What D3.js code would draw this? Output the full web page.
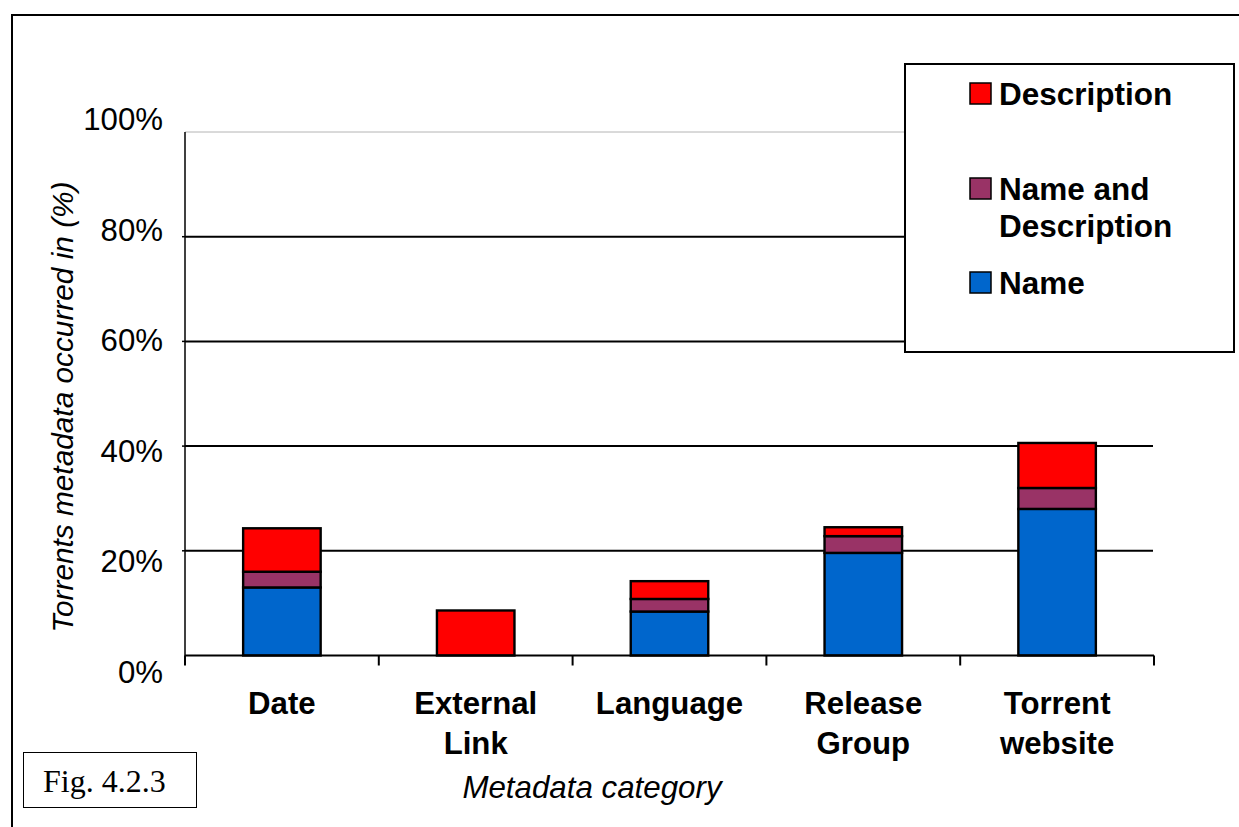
<!DOCTYPE html>
<html>
<head>
<meta charset="utf-8">
<script src="https://cdn.jsdelivr.net/npm/d3@7"></script>
<style>
  html, body { margin: 0; padding: 0; background: #fff; }
  svg { display: block; }
  text { font-family: "Liberation Sans", Arial, sans-serif; fill: #000; }
</style>
</head>
<body>
<svg id="chart" width="1239" height="827"></svg>
<script>
// ---- data ----
const categories = [["Date"], ["External", "Link"], ["Language"], ["Release", "Group"], ["Torrent", "website"]];
const seriesNames = ["Name", "Name and Description", "Description"];
const nameValues = [13.0, 0, 8.4, 19.6, 28.0];
const nameAndDescValues = [3.0, 0, 2.4, 3.2, 4.0];
const descValues = [8.3, 8.6, 3.4, 1.7, 8.6];
const yTicks = [0, 20, 40, 60, 80, 100];
const yTickLabels = ["0%", "20%", "40%", "60%", "80%", "100%"];
const colors = ["#0066CC", "#993366", "#FF0000"];

(function () {
const svg = d3.select("#chart");

// outer frame
svg.append("rect").attr("x", 12).attr("y", 15).attr("width", 1250).attr("height", 840)
  .attr("fill", "none").attr("stroke", "#000").attr("stroke-width", 2);

const pLeft = 185, pRight = 1154, pTop = 132, pBottom = 655.5;
const x = d3.scaleBand().domain(d3.range(categories.length)).range([pLeft, pRight]).padding(0);
const y = d3.scaleLinear().domain([0, 100]).range([pBottom, pTop]);
const yLab = d3.scaleLinear().domain([0, 100]).range([672, 119]);
const barW = x.bandwidth() * 0.4;

// top border of plot area (gray)
svg.append("line").attr("x1", pLeft).attr("x2", pRight - 1).attr("y1", y(100)).attr("y2", y(100))
  .attr("stroke", "#b4b4b4").attr("stroke-width", 1);

// gridlines
svg.append("g").selectAll("line").data(yTicks.filter(t => t > 0 && t < 100)).join("line")
  .attr("x1", pLeft).attr("x2", pRight - 1).attr("y1", d => y(d)).attr("y2", d => y(d))
  .attr("stroke", "#000").attr("stroke-width", 2);

// stacked bars
const rows = categories.map((c, i) => ({ i, Name: nameValues[i], "Name and Description": nameAndDescValues[i], Description: descValues[i] }));
const stack = d3.stack().keys(seriesNames)(rows);
stack.forEach((layer, k) => {
  svg.append("g").selectAll("rect").data(layer.filter(d => d[1] - d[0] > 0)).join("rect")
    .attr("x", d => x(d.data.i) + (x.bandwidth() - barW) / 2)
    .attr("width", barW)
    .attr("y", d => y(d[1]))
    .attr("height", d => y(d[0]) - y(d[1]))
    .attr("fill", colors[k]).attr("stroke", "#000").attr("stroke-width", 2.4);
});

// y axis
svg.append("line").attr("x1", pLeft).attr("x2", pLeft).attr("y1", pTop).attr("y2", pBottom + 9)
  .attr("stroke", "#000").attr("stroke-width", 1.5);
svg.append("g").selectAll("line").data(yTicks.filter(t => t > 0 && t < 100)).join("line")
  .attr("x1", pLeft - 3).attr("x2", pLeft).attr("y1", d => y(d)).attr("y2", d => y(d))
  .attr("stroke", "#000").attr("stroke-width", 1.5);
svg.append("g").selectAll("text").data(yTicks).join("text")
  .attr("x", 163).attr("y", d => yLab(d)).attr("dy", "0.35em")
  .attr("text-anchor", "end").attr("font-size", 31.2)
  .text((d, i) => yTickLabels[i]);

// x axis
svg.append("line").attr("x1", pLeft).attr("x2", pRight).attr("y1", pBottom).attr("y2", pBottom)
  .attr("stroke", "#000").attr("stroke-width", 2);
svg.append("g").selectAll("line").data(d3.range(categories.length + 1)).join("line")
  .attr("x1", d => pLeft + d * x.step()).attr("x2", d => pLeft + d * x.step())
  .attr("y1", pBottom).attr("y2", pBottom + 10)
  .attr("stroke", "#000").attr("stroke-width", 2);

// category labels
const cat = svg.append("g").selectAll("text").data(categories).join("text")
  .attr("text-anchor", "middle").attr("font-weight", "bold").attr("font-size", 31.2);
cat.each(function (lines, i) {
  const t = d3.select(this);
  lines.forEach((ln, j) => {
    t.append("tspan").attr("x", x(i) + x.bandwidth() / 2).attr("y", 714 + j * 40).text(ln);
  });
});

// axis titles
svg.append("text").attr("x", 592).attr("y", 798).attr("text-anchor", "middle")
  .attr("font-style", "italic").attr("font-size", 31.3).text("Metadata category");
svg.append("text").attr("transform", "translate(73,407) rotate(-90)").attr("text-anchor", "middle")
  .attr("font-style", "italic").attr("font-size", 29.8).text("Torrents metadata occurred in (%)");

// legend
svg.append("rect").attr("x", 905).attr("y", 64).attr("width", 329).attr("height", 288)
  .attr("fill", "#fff").attr("stroke", "#000").attr("stroke-width", 2);
const legendItems = [
  { k: 2, lines: ["Description"], y: 83 },
  { k: 1, lines: ["Name and", "Description"], y: 178 },
  { k: 0, lines: ["Name"], y: 272 }
];
legendItems.forEach(it => {
  svg.append("rect").attr("x", 970).attr("y", it.y).attr("width", 21).attr("height", 21)
    .attr("fill", colors[it.k]).attr("stroke", "#000").attr("stroke-width", 1.5);
  const t = svg.append("text").attr("font-weight", "bold").attr("font-size", 31.5);
  it.lines.forEach((ln, j) => {
    t.append("tspan").attr("x", 999).attr("y", it.y + 22 + j * 37).text(ln);
  });
});

// figure label
svg.append("rect").attr("x", 23.5).attr("y", 752.5).attr("width", 173).attr("height", 55)
  .attr("fill", "none").attr("stroke", "#000").attr("stroke-width", 1);
svg.append("text").attr("x", 43).attr("y", 792)
  .attr("font-size", 32).style("font-family", "'Liberation Serif', 'Times New Roman', serif").text("Fig. 4.2.3");
})();
</script>
</body>
</html>
